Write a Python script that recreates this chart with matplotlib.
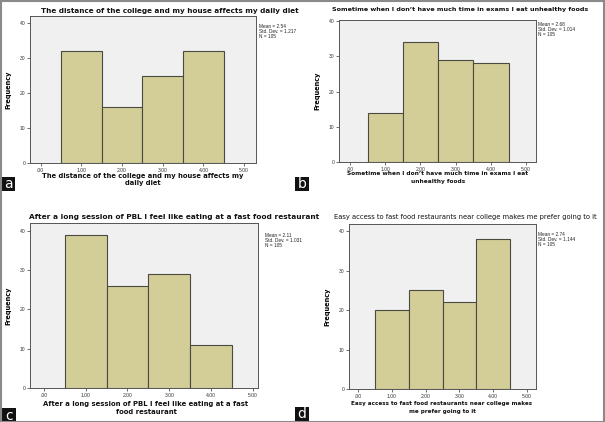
import matplotlib
matplotlib.use("Agg")
import matplotlib.pyplot as plt
from matplotlib.patches import Rectangle

plt.rcParams['font.family'] = ['Liberation Sans', 'DejaVu Sans']

categories = [1, 2, 3, 4]
tick_values = [0, 1, 2, 3, 4, 5]
tick_labels = [".00", "1.00", "2.00", "3.00", "4.00", "5.00"]
y_ticks = [0, 10, 20, 30, 40]

freq_a = [32, 16, 25, 32]
freq_b = [14, 34, 29, 28]
freq_c = [39, 26, 29, 11]
freq_d = [20, 25, 22, 38]

titles = [
    "The distance of the college and my house affects my daily diet",
    "Sometime when I don\u2019t have much time in exams I eat unhealthy foods",
    "After a long session of PBL I feel like eating at a fast food restaurant",
    "Easy access to fast food restaurants near college makes me prefer going to it",
]
xlabels = [
    "The distance of the college and my house affects my\ndaily diet",
    "Sometime when I don\u2019t have much time in exams I eat\nunhealthy foods",
    "After a long session of PBL I feel like eating at a fast\nfood restaurant",
    "Easy access to fast food restaurants near college makes\nme prefer going to it",
]
stats = [
    "Mean = 2.54\nStd. Dev. = 1.217\nN = 105",
    "Mean = 2.68\nStd. Dev. = 1.014\nN = 105",
    "Mean = 2.11\nStd. Dev. = 1.031\nN = 105",
    "Mean = 2.74\nStd. Dev. = 1.144\nN = 105",
]
panel_letters = ["a", "b", "c", "d"]
freqs = [freq_a, freq_b, freq_c, freq_d]
title_weights = ["bold", "bold", "bold", "normal"]

W, H = 605, 422
fig = plt.figure(figsize=(W / 100, H / 100), dpi=100)
fig.patch.set_facecolor("white")

def fx(px):
    return px / W

def fy(py):
    return 1 - py / H

layout = [
    dict(box=(30, 16, 256, 163), xlim=(-0.26, 5.29), ytop=42.1,
         title=(170, 11, 257), xl=(143, 176, 202), stat=(259, 24), letter=(1, 177)),
    dict(box=(339, 20, 536, 162), xlim=(-0.31, 5.28), ytop=40.3,
         title=(460, 10, 255), xl=(438, 174, 180), stat=(538, 22), letter=(295, 177)),
    dict(box=(30, 223, 258, 388), xlim=(-0.33, 5.12), ytop=42.0,
         title=(174, 217, 286), xl=(146, 404, 206), stat=(265, 233), letter=(2, 408)),
    dict(box=(349, 224, 536, 389), xlim=(-0.28, 5.28), ytop=41.8,
         title=(465, 217, 265), xl=(442, 404, 180), stat=(538, 232), letter=(295, 407)),
]

renderer = fig.canvas.get_renderer()

def fit_text(t, target_px):
    t.set_fontsize(8)
    bb = t.get_window_extent(renderer=renderer)
    t.set_fontsize(8 * target_px / bb.width)

WIDE = ['DejaVu Sans']

for i, L in enumerate(layout):
    l, t, r, b = L["box"]
    ax = fig.add_axes([fx(l), fy(b), fx(r - l), (b - t) / H])
    ax.set_facecolor("#F0F0F0")
    ax.bar(categories, freqs[i], width=1.0, color="#D3CE98",
           edgecolor="#4A4A40", linewidth=0.8, zorder=2)
    ax.set_xlim(*L["xlim"])
    ax.set_ylim(0, L["ytop"])
    ax.set_xticks(tick_values)
    ax.set_xticklabels(tick_labels)
    ax.set_yticks(y_ticks)
    ax.tick_params(axis="both", labelsize=3.6, colors="#333333", length=2,
                   width=0.5, pad=1.5)
    for s in ax.spines.values():
        s.set_color("#555555")
        s.set_linewidth(0.7)
    ax.set_ylabel("Frequency", fontsize=4.8, fontweight="bold", labelpad=6,
                  family=WIDE)

    tx, ty, tw = L["title"]
    tt = fig.text(fx(tx), fy(ty), titles[i], ha="center", va="center",
                  fontweight=title_weights[i], color="#111111", family=WIDE)
    fit_text(tt, tw)

    xx, xy, xw = L["xl"]
    lines = xlabels[i].split("\n")
    t1 = fig.text(fx(xx), fy(xy), lines[0], ha="center", va="center",
                  fontweight="bold", color="#111111", family=WIDE)
    fit_text(t1, xw)
    fs = t1.get_fontsize()
    fig.text(fx(xx), fy(xy + 7.5), lines[1], ha="center", va="center",
             fontweight="bold", color="#111111", fontsize=fs, family=WIDE)

    sx, sy = L["stat"]
    fig.text(fx(sx), fy(sy), stats[i], ha="left", va="top", fontsize=3.4,
             color="#222222", linespacing=0.95)

    lx, ly = L["letter"]
    fig.patches.append(Rectangle((fx(lx), fy(ly + 14)), fx(14), 14 / H,
                                 transform=fig.transFigure, facecolor="#111111",
                                 edgecolor="none", zorder=5))
    fig.text(fx(lx + 7), fy(ly + 7.5), panel_letters[i], ha="center", va="center",
             fontsize=10, color="white", zorder=6, family=WIDE)

fig.patches.append(Rectangle((0.5 / W, 0.5 / H), 1 - 1.5 / W, 1 - 1.5 / H,
                             transform=fig.transFigure, facecolor="none",
                             edgecolor="#8A8A8A", linewidth=1.5, zorder=10))

fig.savefig("out.png", dpi=100)
